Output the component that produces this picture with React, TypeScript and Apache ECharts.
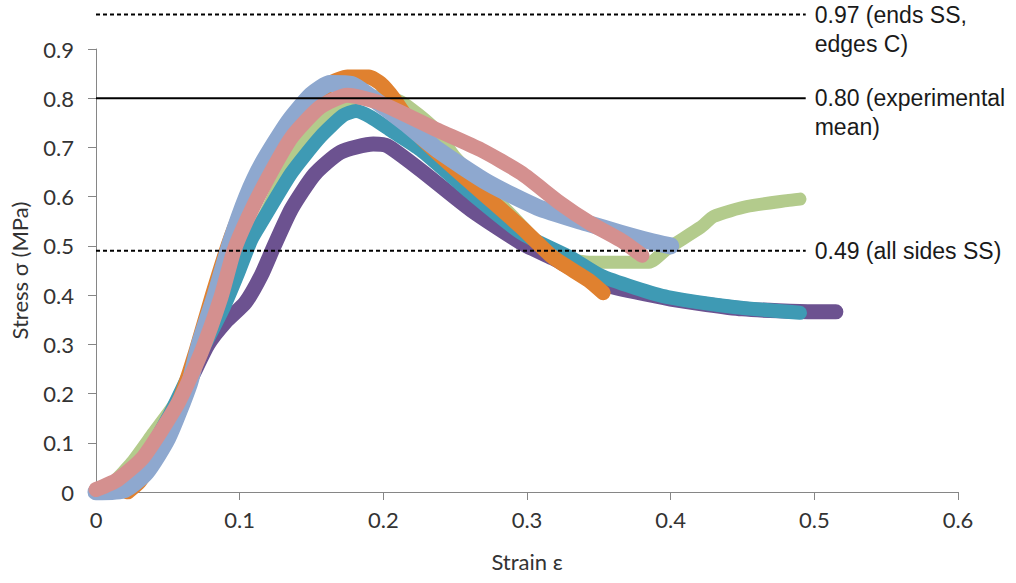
import React, { useEffect, useRef } from "react";
import * as echarts from "echarts";

// Specimen curves: strain (x) and stress in MPa (y)
const strainPink = [0, 0.015, 0.033, 0.057, 0.073, 0.087, 0.096, 0.106, 0.12, 0.136, 0.156, 0.175, 0.198, 0.238, 0.268, 0.296, 0.323, 0.344, 0.365, 0.38];
const stressPink = [0.005, 0.025, 0.071, 0.18, 0.282, 0.396, 0.49, 0.559, 0.64, 0.72, 0.782, 0.806, 0.79, 0.735, 0.695, 0.648, 0.587, 0.546, 0.512, 0.481];

const strainBlue = [0, 0.02, 0.035, 0.05, 0.065, 0.072, 0.083, 0.094, 0.105, 0.116, 0.134, 0.15, 0.163, 0.178, 0.191, 0.215, 0.238, 0.273, 0.307, 0.342, 0.365, 0.385, 0.4];
const stressBlue = [0, 0.005, 0.04, 0.11, 0.22, 0.3, 0.4, 0.51, 0.6, 0.668, 0.752, 0.807, 0.83, 0.828, 0.803, 0.75, 0.695, 0.628, 0.579, 0.546, 0.526, 0.51, 0.5];

const strainOrange = [0.022, 0.03, 0.04, 0.05, 0.06, 0.07, 0.081, 0.093, 0.107, 0.126, 0.142, 0.153, 0.163, 0.175, 0.19, 0.198, 0.207, 0.226, 0.261, 0.296, 0.318, 0.343, 0.353];
const stressOrange = [0, 0.02, 0.065, 0.13, 0.2, 0.29, 0.4, 0.51, 0.61, 0.7, 0.76, 0.795, 0.83, 0.843, 0.843, 0.83, 0.8, 0.721, 0.628, 0.538, 0.477, 0.43, 0.405];

const strainGreen = [0, 0.012, 0.025, 0.04, 0.055, 0.068, 0.08, 0.093, 0.105, 0.117, 0.136, 0.152, 0.168, 0.185, 0.2, 0.214, 0.235, 0.25, 0.27, 0.29, 0.31, 0.325, 0.345, 0.385, 0.398, 0.421, 0.43, 0.453, 0.481, 0.49];
const stressGreen = [0, 0.02, 0.06, 0.12, 0.18, 0.26, 0.34, 0.43, 0.5, 0.56, 0.675, 0.742, 0.782, 0.8, 0.805, 0.79, 0.74, 0.68, 0.62, 0.56, 0.5, 0.475, 0.467, 0.467, 0.495, 0.538, 0.56, 0.58, 0.592, 0.595];

const strainTeal = [0.015, 0.03, 0.05, 0.065, 0.075, 0.089, 0.099, 0.108, 0.115, 0.136, 0.156, 0.172, 0.181, 0.191, 0.205, 0.226, 0.261, 0.296, 0.33, 0.351, 0.375, 0.398, 0.444, 0.49];
const stressTeal = [0, 0.05, 0.15, 0.24, 0.295, 0.376, 0.445, 0.512, 0.547, 0.648, 0.721, 0.765, 0.774, 0.762, 0.735, 0.695, 0.607, 0.526, 0.477, 0.44, 0.415, 0.396, 0.376, 0.364];

const strainPurple = [0.008, 0.022, 0.037, 0.052, 0.066, 0.078, 0.09, 0.104, 0.115, 0.124, 0.136, 0.152, 0.17, 0.193, 0.203, 0.226, 0.261, 0.296, 0.318, 0.35, 0.4, 0.45, 0.5, 0.515];
const stressPurple = [0, 0.04, 0.095, 0.155, 0.23, 0.3, 0.345, 0.385, 0.44, 0.5, 0.575, 0.645, 0.69, 0.707, 0.703, 0.654, 0.573, 0.506, 0.475, 0.425, 0.392, 0.372, 0.366, 0.366];

// Reference stress levels (MPa)
const refValues = [0.97, 0.8, 0.49];
const refLabels = ["\n0.97 (ends SS,\nedges C)", "\n0.80 (experimental\nmean)", "0.49 (all sides SS)"];
const refSolid = [false, true, false];
const refStrainEnd = 0.494;

const xTicks = { min: 0, max: 0.6, interval: 0.1 };
const yTicks = { min: 0, max: 0.9, interval: 0.1 };

const zip = (xs: number[], ys: number[]) => xs.map((x, i) => [x, ys[i]]);

const specimens = [
  { name: "Specimen 6", x: strainPurple, y: stressPurple, color: "#6C5290", width: 15 },
  { name: "Specimen 3", x: strainGreen, y: stressGreen, color: "#B3CB8C", width: 13 },
  { name: "Specimen 5", x: strainTeal, y: stressTeal, color: "#3E9AB4", width: 14 },
  { name: "Specimen 4", x: strainOrange, y: stressOrange, color: "#E0812F", width: 15 },
  { name: "Specimen 2", x: strainBlue, y: stressBlue, color: "#8EA8CF", width: 17 },
  { name: "Specimen 1", x: strainPink, y: stressPink, color: "#D4908F", width: 15 },
];

const tickFont = "Lato, 'Open Sans', sans-serif";
const refFont = "'Liberation Sans', Arial, sans-serif";

export default function App() {
  const ref = useRef<HTMLDivElement>(null);
  useEffect(() => {
    if (!ref.current) return;
    const chart = echarts.init(ref.current, null, { renderer: "svg" });
    const fmt = (v: number) => String(+v.toFixed(1));
    const series: any[] = specimens.map((s, i) => ({
      type: "line",
      name: s.name,
      data: zip(s.x, s.y),
      showSymbol: false,
      smooth: 0.2,
      z: 2 + i,
      lineStyle: { color: s.color, width: s.width, cap: "round", join: "round" },
      itemStyle: { color: s.color },
    }));
    refValues.forEach((v, i) => {
      series.push({
        type: "line",
        name: "ref" + i,
        data: [[0, v], [refStrainEnd, v]],
        showSymbol: false,
        clip: false,
        z: 20,
        lineStyle: { color: "#000", width: 2, type: refSolid[i] ? "solid" : [4, 3] },
        endLabel: {
          show: true,
          formatter: () => refLabels[i],
          distance: 9,
          color: "#1a1a1a",
          fontSize: 23,
          lineHeight: 29,
          fontFamily: refFont,
        },
      });
    });
    chart.setOption({
      animation: false,
      backgroundColor: "#fff",
      grid: { left: 95, top: 49, right: 58, bottom: 91, containLabel: false },
      xAxis: {
        type: "value",
        ...xTicks,
        name: "Strain ε",
        nameLocation: "middle",
        nameGap: 58,
        nameTextStyle: { fontSize: 22, color: "#333", fontFamily: tickFont },
        axisLine: { show: true, onZero: false, lineStyle: { color: "#868686", width: 1 } },
        axisTick: { show: true, inside: false, length: 8, lineStyle: { color: "#868686" } },
        axisLabel: { formatter: fmt, fontSize: 22, color: "#333", fontFamily: tickFont, margin: 16 },
        splitLine: { show: false },
      },
      yAxis: {
        type: "value",
        ...yTicks,
        name: "Stress σ (MPa)",
        nameLocation: "middle",
        nameGap: 66,
        nameTextStyle: { fontSize: 22, color: "#333", fontFamily: tickFont },
        axisLine: { show: true, onZero: false, lineStyle: { color: "#868686", width: 1 } },
        axisTick: { show: true, inside: false, length: 8, lineStyle: { color: "#868686" } },
        axisLabel: { formatter: fmt, fontSize: 22, color: "#333", fontFamily: tickFont, margin: 22 },
        splitLine: { show: false },
      },
      series,
    });
    return () => chart.dispose();
  }, []);
  return (
    <div
      ref={ref}
      style={{ position: "fixed", left: 0, top: 0, width: 1016, height: 583, background: "#fff" }}
    />
  );
}
